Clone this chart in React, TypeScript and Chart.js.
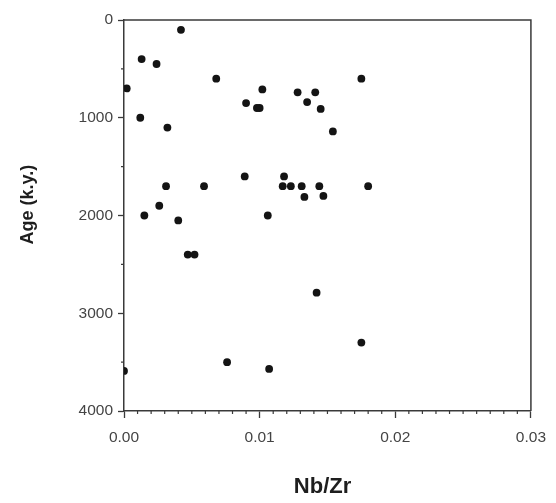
import React, { useEffect, useRef } from "react";
import { Chart, registerables } from "chart.js";

Chart.register(...registerables);

// Nb/Zr ratio of each sample
const nbZr = [
  0.0042, 0.0013, 0.0024, 0.0002, 0.0068, 0.0012, 0.0032, 0.0090, 0.0098, 0.0100,
  0.0102, 0.0128, 0.0141, 0.0135, 0.0145, 0.0154, 0.0175, 0.0089, 0.0118, 0.0117,
  0.0123, 0.0131, 0.0144, 0.0180, 0.0133, 0.0147, 0.0031, 0.0059, 0.0026, 0.0015,
  0.0040, 0.0106, 0.0047, 0.0052, 0.0142, 0.0175, 0.0076, 0.0107, 0.0000,
];
// Age (k.y.) of each sample
const ageKy = [
  100, 400, 450, 700, 600, 1000, 1100, 850, 900, 900,
  710, 740, 740, 840, 910, 1140, 600, 1600, 1600, 1700,
  1700, 1700, 1700, 1700, 1810, 1800, 1700, 1700, 1900, 2000,
  2050, 2000, 2400, 2400, 2790, 3300, 3500, 3570, 3590,
];

const xTitle = "Nb/Zr";
const yTitle = "Age (k.y.)";

const xMin = 0;
const xMax = 0.03;
const xMajorStep = 0.01;
const xMinorStep = 0.001;
const yMin = 0;
const yMax = 4000;
const yMajorStep = 1000;
const yMinorStep = 500;

const AXIS = "#3a3a3a";
const FONT = "'Liberation Sans', Arial, Helvetica, sans-serif";

const framePlugin = {
  id: "frameMinor",
  afterDraw(chart: any) {
    const { ctx, chartArea } = chart;
    const { left, right, top, bottom } = chartArea;
    const xs = chart.scales.x;
    const ys = chart.scales.y;
    ctx.save();
    ctx.strokeStyle = AXIS;
    ctx.lineWidth = 1.5;
    ctx.beginPath();
    ctx.moveTo(left, top);
    ctx.lineTo(right, top);
    ctx.lineTo(right, bottom);
    ctx.stroke();

    ctx.lineWidth = 1.2;
    ctx.beginPath();
    const nx = Math.round((xMax - xMin) / xMinorStep);
    const perMajorX = Math.round(xMajorStep / xMinorStep);
    for (let i = 0; i <= nx; i++) {
      if (i % perMajorX === 0) continue;
      const px = xs.getPixelForValue(xMin + i * xMinorStep);
      ctx.moveTo(px, bottom);
      ctx.lineTo(px, bottom + 3);
    }
    const ny = Math.round((yMax - yMin) / yMinorStep);
    const perMajorY = Math.round(yMajorStep / yMinorStep);
    for (let i = 0; i <= ny; i++) {
      if (i % perMajorY === 0) continue;
      const py = ys.getPixelForValue(yMin + i * yMinorStep);
      ctx.moveTo(left, py);
      ctx.lineTo(left - 3, py);
    }
    ctx.stroke();

    // axis titles
    ctx.fillStyle = "#1e1e1e";
    ctx.textAlign = "center";
    ctx.textBaseline = "middle";
    ctx.font = `bold 22px ${FONT}`;
    ctx.fillText(xTitle, left + (right - left) * 0.488, 487);
    ctx.save();
    ctx.translate(28, top + (bottom - top) * 0.472);
    ctx.rotate(-Math.PI / 2);
    ctx.font = `bold 18px ${FONT}`;
    ctx.fillText(yTitle, 0, 0);
    ctx.restore();
    ctx.restore();
  },
};

export default function App() {
  const ref = useRef<HTMLCanvasElement | null>(null);

  useEffect(() => {
    if (!ref.current) return;
    const chart = new Chart(ref.current, {
      type: "scatter",
      data: {
        datasets: [
          {
            data: nbZr.map((x, i) => ({ x, y: ageKy[i] })),
            backgroundColor: "#141414",
            borderWidth: 0,
            pointRadius: 3.9,
            pointHoverRadius: 3.9,
          },
        ],
      },
      options: {
        responsive: false,
        animation: false,
        events: [],
        layout: { padding: { top: 20, right: 20.5, left: 0, bottom: 0 } },
        plugins: {
          legend: { display: false },
          tooltip: { enabled: false },
        },
        scales: {
          x: {
            type: "linear",
            min: xMin,
            max: xMax,
            afterFit: (s: any) => {
              s.height = 92;
            },
            ticks: {
              stepSize: xMajorStep,
              padding: 10,
              color: "#444",
              font: { family: FONT, size: 15.5 },
              callback: (v: any) => Number(v).toFixed(2),
            },
            grid: {
              drawOnChartArea: false,
              drawTicks: true,
              tickLength: 7,
              tickColor: AXIS,
              tickWidth: 1.3,
            },
            border: { display: true, color: AXIS, width: 1.5 },
            title: { display: false },
          },
          y: {
            type: "linear",
            reverse: true,
            min: yMin,
            max: yMax,
            afterFit: (s: any) => {
              s.width = 124;
            },
            ticks: {
              stepSize: yMajorStep,
              padding: 5,
              color: "#444",
              font: { family: FONT, size: 15.5 },
              callback: (v: any) => String(v),
            },
            grid: {
              drawOnChartArea: false,
              drawTicks: true,
              tickLength: 6,
              tickColor: AXIS,
              tickWidth: 1.3,
            },
            border: { display: true, color: AXIS, width: 1.5 },
            title: { display: false },
          },
        },
      },
      plugins: [framePlugin],
    });
    return () => chart.destroy();
  }, []);

  return (
    <div style={{ position: "absolute", left: 0, top: 0, width: 556, height: 503, background: "#fff" }}>
      <canvas ref={ref} width={556} height={503} style={{ display: "block" }} />
    </div>
  );
}
